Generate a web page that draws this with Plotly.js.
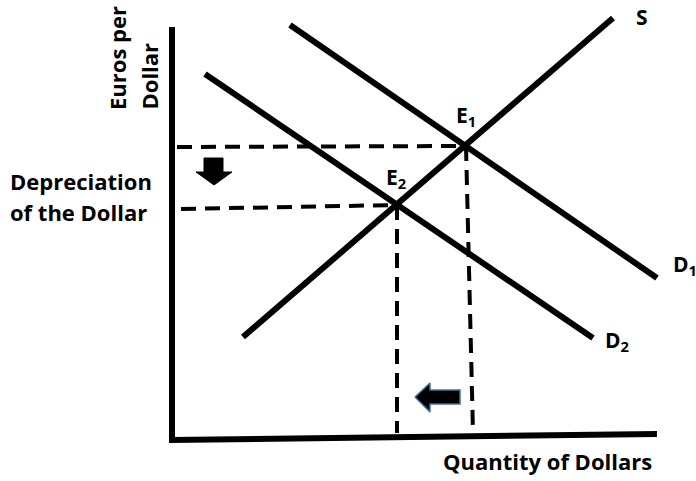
<!DOCTYPE html>
<html>
<head>
<meta charset="utf-8">
<script src="https://cdn.plot.ly/plotly-3.0.1.min.js"></script>
<style>html,body{margin:0;padding:0;background:#fff;}#chart{width:696px;height:481px;}</style>
</head>
<body>
<div id="chart"></div>
<script>
// Coordinates: quantity (x) and euros per dollar (y), origin at axis corner
const axisX = [-1, -1, 484];
const axisY = [411, -2, 4];

const supplyQ = [70, 440];
const supplyP = [101, 420];

const demand1Q = [117, 484];
const demand1P = [413, 160];

const demand2Q = [32, 420];
const demand2P = [364, 100];

const guideH1Q = [4, 291];   const guideH1P = [291, 292];
const guideH2Q = [8, 224];   const guideH2P = [229, 233];
const guideV1Q = [293, 300]; const guideV1P = [292, 5];
const guideV2Q = [224, 224]; const guideV2P = [233, 5];

const downArrowQ = [31, 50, 50, 59, 41, 23, 31, 31];
const downArrowP = [280, 280, 266, 266, 253, 266, 266, 280];
const leftArrowQ = [242, 257, 257, 287, 287, 257, 257, 242];
const leftArrowP = [41, 55, 48, 48, 34, 34, 26, 41];

const labels = {
  yTitle1: "Euros per", yTitle2: "Dollar",
  dep1: "Depreciation", dep2: "of the Dollar",
  xTitle: "Quantity of Dollars",
  s: "S", d1: "D<sub>1</sub>", d2: "D<sub>2</sub>",
  e1: "E<sub>1</sub>", e2: "E<sub>2</sub>"
};

const FONT = {family: "'Open Sans', Lato, sans-serif", size: 22, color: "#000", weight: "bold"};
const FONT_SM = Object.assign({}, FONT, {size: 21});
const line = (x, y, w, dash) => ({x, y, mode: "lines", type: "scatter", hoverinfo: "skip",
  line: {color: "#000", width: w, dash: dash || "solid"}});

const traces = [
  line(guideH1Q, guideH1P, 4, "15px,9px"),
  line(guideH2Q, guideH2P, 4, "15px,9px"),
  line(guideV1Q, guideV1P, 4, "15px,9px"),
  line(guideV2Q, guideV2P, 4, "15px,9px"),
  line(supplyQ, supplyP, 6),
  line(demand1Q, demand1P, 6),
  line(demand2Q, demand2P, 6),
  line(axisX, axisY, 6),
  {x: downArrowQ, y: downArrowP, type: "scatter", mode: "lines", fill: "toself",
   fillcolor: "#000", line: {color: "#000", width: 1}, hoverinfo: "skip"},
  {x: leftArrowQ, y: leftArrowP, type: "scatter", mode: "lines", fill: "toself",
   fillcolor: "#000", line: {color: "#41719C", width: 1.5}, hoverinfo: "skip"}
];

const ann = (text, x, y, xa, ya, font, extra) => Object.assign({text, x, y, xref: "x", yref: "y",
  xanchor: xa, yanchor: ya, showarrow: false, font: font}, extra || {});

const annotations = [
  ann(labels.yTitle1, -56, 326, "center", "bottom", FONT, {textangle: -90}),
  ann(labels.yTitle2, -25, 326, "center", "bottom", FONT, {textangle: -90}),
  ann(labels.dep1, -165, 257, "left", "middle", FONT),
  ann(labels.dep2, -165, 226, "left", "middle", FONT),
  ann(labels.xTitle, 374, -23, "center", "middle", FONT),
  ann(labels.s, 469, 421, "center", "middle", FONT_SM),
  ann(labels.d1, 498, 173, "left", "middle", FONT_SM),
  ann(labels.d2, 430, 97, "left", "middle", FONT_SM),
  ann(labels.e1, 281, 322, "left", "middle", FONT_SM),
  ann(labels.e2, 211, 260, "left", "middle", FONT_SM)
];

const layout = {
  width: 696, height: 481,
  margin: {l: 0, r: 0, t: 0, b: 0},
  paper_bgcolor: "#fff", plot_bgcolor: "#fff",
  showlegend: false,
  xaxis: {range: [-173, 523], visible: false, fixedrange: true},
  yaxis: {range: [-43, 438], visible: false, fixedrange: true},
  annotations
};

Plotly.newPlot("chart", traces, layout, {displayModeBar: false});
</script>
</body>
</html>
